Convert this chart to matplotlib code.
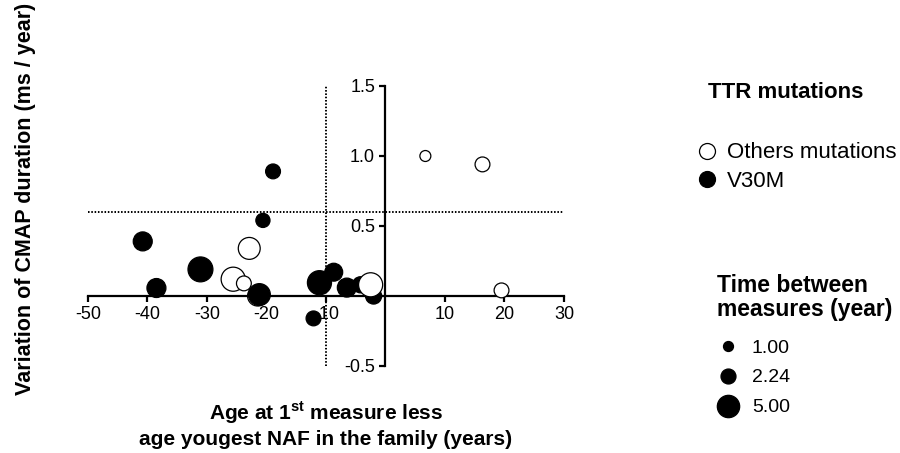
import matplotlib
matplotlib.use('Agg')
import matplotlib.pyplot as plt
from matplotlib.lines import Line2D
import numpy as np

plt.rcParams['font.family'] = ['Liberation Sans', 'DejaVu Sans']
plt.rcParams['mathtext.fontset'] = 'custom'
plt.rcParams['mathtext.rm'] = 'Liberation Sans'
plt.rcParams['mathtext.bf'] = 'Liberation Sans:bold'
plt.rcParams['axes.unicode_minus'] = False

# ---------------- data (drawing order = list order) ----------------
age_diff = [-40.8, -38.5, -31.1, -25.6, -23.8, -22.9, -21.5, -21.2, -20.6, -18.9,
            -12.1, -11.1, -8.7, -6.5, -4.2, -2.0, -2.5, 6.7, 16.3, 19.5]
cmap_var = [0.39, 0.057, 0.19, 0.12, 0.09, 0.34, 0.0, 0.01, 0.54, 0.89,
            -0.16, 0.095, 0.17, 0.06, 0.08, 0.0, 0.08, 1.0, 0.94, 0.04]
time_between = [3.6, 3.6, 6.2, 5.8, 2.2, 4.8, 4.0, 4.8, 2.0, 2.2,
                2.2, 5.8, 3.2, 3.6, 2.6, 2.6, 5.8, 1.2, 2.2, 2.2]
mutation = ['V30M', 'V30M', 'V30M', 'Others', 'Others', 'Others', 'Others', 'V30M', 'V30M', 'V30M',
            'V30M', 'V30M', 'V30M', 'V30M', 'V30M', 'V30M', 'Others', 'Others', 'Others', 'Others']

groups = ['Others mutations', 'V30M']
size_legend_values = [1.00, 2.24, 5.00]
x_ticks = [-50, -40, -30, -20, -10, 10, 20, 30]
y_ticks = [-0.5, 0.5, 1.0, 1.5]
x_threshold = -10
y_threshold = 0.6

# marker diameter (pt) grows with sqrt(time)
def diam_pt(t):
    return 7.2 * np.sqrt(t)

fig = plt.figure(figsize=(9, 4.53), dpi=100)
W, H = 900, 453
ax = fig.add_axes([88 / W, 1 - 366 / H, 476 / W, 280 / H])
ax.set_xlim(-50, 30)
ax.set_ylim(-0.5, 1.5)

face = ['black' if m == 'V30M' else 'white' for m in mutation]
sizes = [diam_pt(t) ** 2 for t in time_between]
ax.scatter(age_diff, cmap_var, s=sizes, c=face, edgecolors='black',
           linewidths=0.9, zorder=3, clip_on=False)

# dotted reference lines
ax.plot([x_threshold, x_threshold], [-0.5, 1.5], color='black', lw=1.4,
        linestyle=(0, (0.8, 0.9)), zorder=1)
ax.plot([-50, 30], [y_threshold, y_threshold], color='black', lw=1.4,
        linestyle=(0, (0.8, 0.9)), zorder=1)

# axes through origin
for s in ['top', 'right']:
    ax.spines[s].set_visible(False)
ax.spines['left'].set_position(('data', 0))
ax.spines['bottom'].set_position(('data', 0))
ax.spines['left'].set_linewidth(1.6)
ax.spines['bottom'].set_linewidth(1.6)
ax.set_xticks(x_ticks)
ax.set_xticklabels([str(v) for v in x_ticks])
ax.set_yticks(y_ticks)
ax.set_yticklabels(['%.1f' % v for v in y_ticks])
ax.tick_params(axis='both', direction='out', length=4.5, width=1.6,
               labelsize=13, pad=3)

ax.set_ylabel('Variation of CMAP duration (ms / year)', fontsize=15.5,
              fontweight='bold', va='center')
ax.yaxis.set_label_coords((25.5 - 88) / 476, (366 - 199) / 280)
ax.set_xlabel('Age at 1$^{\\mathbf{st}}$ measure less\nage yougest NAF in the family (years)',
              fontsize=15, fontweight='bold', va='center', linespacing=1.3)
ax.xaxis.set_label_coords(0.5, (366 - 424) / 280)

# legend: mutation type
fig.text(708 / W, 1 - 92.7 / H, 'TTR mutations', fontsize=16, fontweight='bold',
         ha='left', va='center')
h1 = [Line2D([], [], marker='o', linestyle='', markersize=11.5,
             markerfacecolor=fc, markeredgecolor='black', markeredgewidth=0.9)
      for fc in ['white', 'black']]
leg1 = fig.legend(h1, groups, loc='upper left',
                  bbox_to_anchor=(695.6 / W, 1 - 142.5 / H), frameon=False,
                  fontsize=16, borderpad=0, borderaxespad=0, handlelength=1.0,
                  handletextpad=0.4, labelspacing=0.33)

# legend: time between measures
fig.text(717 / W, 1 - 297.5 / H, 'Time between\nmeasures (year)', fontsize=16.5,
         fontweight='bold', ha='left', va='center', linespacing=1.1)
h2 = [Line2D([], [], marker='o', linestyle='', markersize=diam_pt(v),
             markerfacecolor='black', markeredgecolor='black', markeredgewidth=0.9)
      for v in size_legend_values]
leg2 = fig.legend(h2, ['%.2f' % v for v in size_legend_values], loc='upper left',
                  bbox_to_anchor=(715.7 / W, 1 - 339 / H), frameon=False,
                  fontsize=14, borderpad=0, borderaxespad=0, handlelength=1.3,
                  handletextpad=0.56, labelspacing=0.63)

fig.savefig('out.png', dpi=100)
